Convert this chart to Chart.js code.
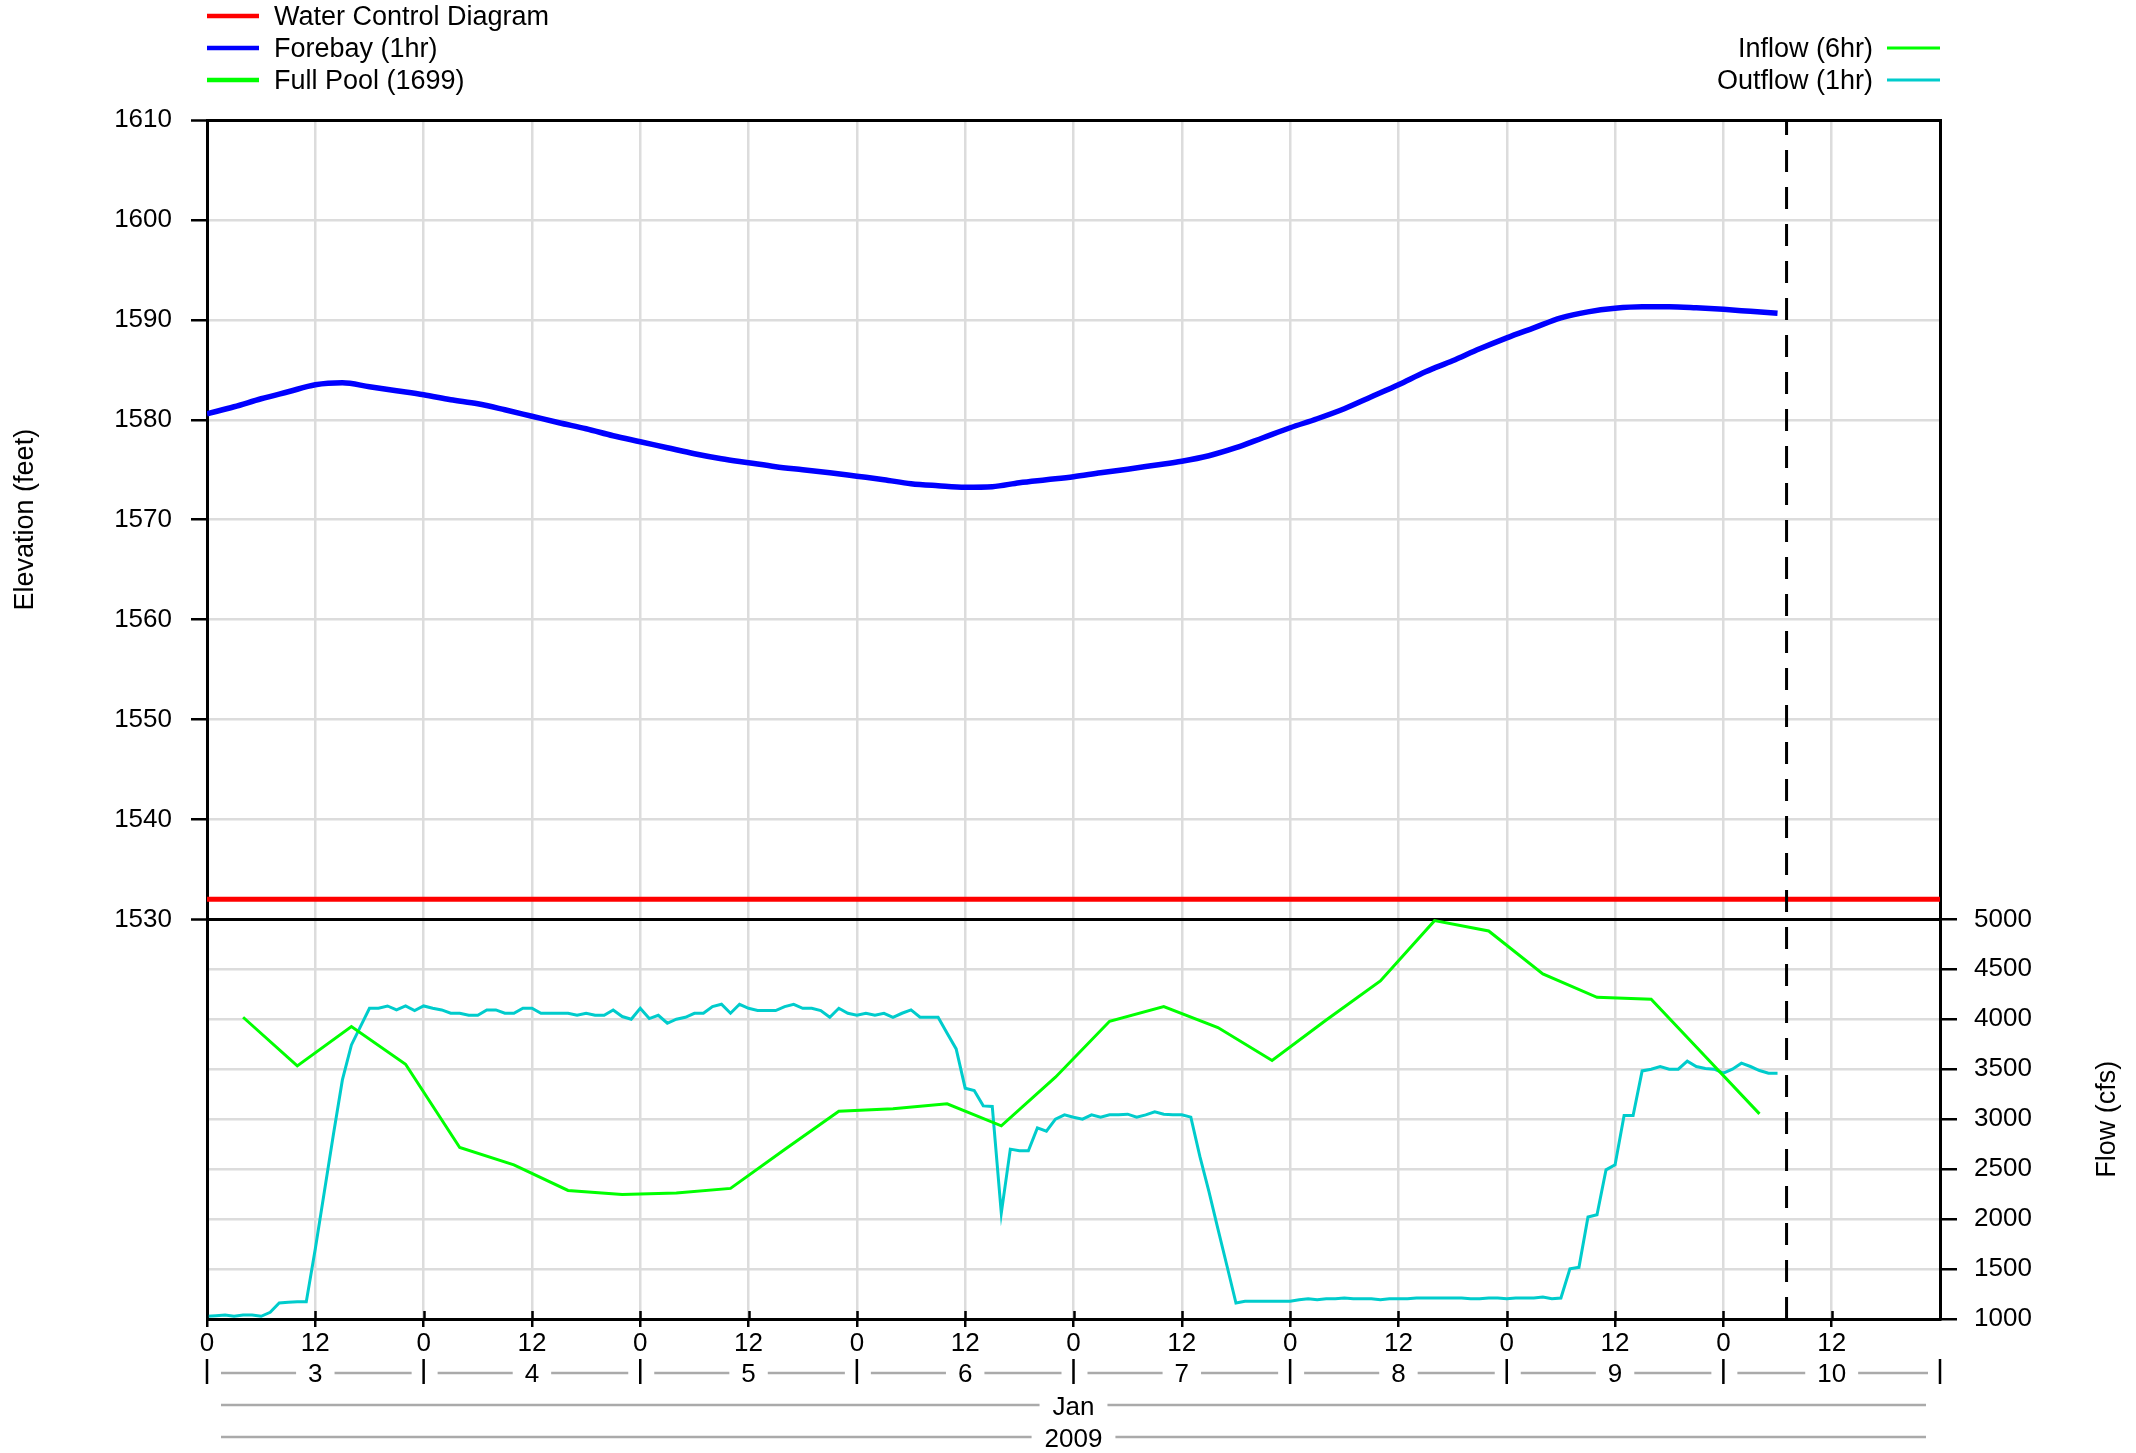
<!DOCTYPE html>
<html>
<head>
<meta charset="utf-8">
<script src="https://cdn.jsdelivr.net/npm/chart.js@4.4.1/dist/chart.umd.min.js"></script>
<style>
  html, body { margin: 0; padding: 0; background: #fff; }
  #wrap { width: 2136px; height: 1453px; }
</style>
</head>
<body>
<div id="wrap"><canvas id="chart" width="2136" height="1453"></canvas></div>
<script>
// ---- data (hours since Jan 3 2009 00:00) ----
const forebayStep = 3;   // forebay read every 3 hours from 0h
const forebay = [
  1580.6, 1581.3, 1582.1, 1582.8, 1583.5, 1583.7, 1583.3, 1582.9, 1582.5, 1582.0,
  1581.6, 1581.0, 1580.35, 1579.7, 1579.1, 1578.4, 1577.8, 1577.2, 1576.6, 1576.1,
  1575.7, 1575.3, 1575.0, 1574.7, 1574.35, 1574.0, 1573.6, 1573.4, 1573.25, 1573.3,
  1573.7, 1574.0, 1574.3, 1574.7, 1575.05, 1575.45, 1575.85, 1576.4, 1577.2, 1578.2,
  1579.2, 1580.1, 1581.1, 1582.3, 1583.5, 1584.8, 1585.9, 1587.1, 1588.2, 1589.2,
  1590.2, 1590.8, 1591.15, 1591.3, 1591.3, 1591.2, 1591.05, 1590.85, 1590.65
];

const inflowStart = 4, inflowStep = 6;
const inflow = [
  4020, 3533, 3927, 3550, 2717, 2543, 2287, 2247, 2260, 2307,
  2697, 3080, 3105, 3153, 2933, 3420, 3980, 4127, 3917, 3587,
  3993, 4383, 4987, 4883, 4453, 4220, 4200, 3627, 3053
];

// hourly, from 0h
const outflow = [
  1027, 1033, 1040, 1027, 1040, 1040, 1027, 1067, 1160, 1167,
  1173, 1173, 1703, 2273, 2843, 3393, 3743, 3927, 4110, 4110,
  4133, 4093, 4133, 4087, 4133, 4110, 4093, 4060, 4060, 4040,
  4040, 4093, 4093, 4060, 4060, 4110, 4110, 4060, 4060, 4060,
  4060, 4040, 4060, 4040, 4040, 4093, 4027, 4000, 4110, 4007,
  4040, 3960, 4000, 4020, 4060, 4060, 4127, 4150, 4060, 4150,
  4110, 4087, 4087, 4087, 4127, 4150, 4110, 4110, 4087, 4020,
  4110, 4060, 4040, 4060, 4040, 4060, 4020, 4060, 4093, 4020,
  4020, 4020, 3860, 3703, 3310, 3287, 3133, 3127, 2060, 2700,
  2683, 2683, 2913, 2880, 3000, 3043, 3020, 3000, 3043, 3020,
  3043, 3043, 3050, 3020, 3043, 3073, 3050, 3043, 3043, 3020,
  2627, 2277, 1903, 1533, 1160, 1177, 1177, 1177, 1177, 1177,
  1177, 1193, 1203, 1193, 1203, 1203, 1210, 1203, 1203, 1203,
  1193, 1203, 1203, 1203, 1210, 1210, 1210, 1210, 1210, 1210,
  1203, 1203, 1210, 1210, 1203, 1210, 1210, 1210, 1220, 1203,
  1210, 1503, 1517, 2020, 2043, 2493, 2543, 3037, 3037, 3483,
  3500, 3527, 3500, 3500, 3580, 3527, 3507, 3500, 3460, 3500,
  3560, 3527, 3487, 3460, 3460
];

const waterControl = 1532;
const fullPool = 1699;
const nowHour = 175;      // Jan 10 07:00 marker

const hourTicks = [0, 12, 24, 36, 48, 60, 72, 84, 96, 108, 120, 132, 144, 156, 168, 180];
const elevTicks = [1530, 1540, 1550, 1560, 1570, 1580, 1590, 1600, 1610];
const flowTicks = [1000, 1500, 2000, 2500, 3000, 3500, 4000, 4500, 5000];
const dayLabels = ['3', '4', '5', '6', '7', '8', '9', '10'];
const monthLabel = 'Jan';
const yearLabel = '2009';

const legendLeft = [
  { text: 'Water Control Diagram', color: '#ff0000' },
  { text: 'Forebay (1hr)', color: '#0000ff' },
  { text: 'Full Pool (1699)', color: '#00ff00' }
];
const legendRight = [
  { text: 'Inflow (6hr)', color: '#00ff00' },
  { text: 'Outflow (1hr)', color: '#00cccc' }
];

// ---- styling ----
const FONT = 'Liberation Sans, Arial, Helvetica, sans-serif';
const GRID = '#dcdcdc';
const ROWGRAY = '#aaaaaa';

const toXY = (vals, start, step) => vals.map((v, i) => ({ x: start + i * step, y: v }));

const decor = {
  id: 'decor',
  afterDraw(chart) {
    const ctx = chart.ctx;
    const xs = chart.scales.x;
    const a = chart.chartArea;
    ctx.save();

    // inner part of the bottom hour ticks
    ctx.strokeStyle = '#000';
    ctx.lineWidth = 2.5;
    hourTicks.forEach(h => {
      const px = Math.round(xs.getPixelForValue(h)) + 0.5;
      ctx.beginPath();
      ctx.moveTo(px, a.bottom - 8);
      ctx.lineTo(px, a.bottom);
      ctx.stroke();
    });

    ctx.font = '26px ' + FONT;
    ctx.fillStyle = '#000';
    ctx.textAlign = 'center';
    ctx.textBaseline = 'middle';

    // day row
    const rowY = 1373;
    dayLabels.forEach((d, i) => {
      const x0 = xs.getPixelForValue(i * 24);
      const x1 = xs.getPixelForValue((i + 1) * 24);
      const xm = xs.getPixelForValue(i * 24 + 12);
      const w = ctx.measureText(d).width;
      ctx.strokeStyle = '#000';
      ctx.lineWidth = 2.5;
      ctx.beginPath();
      ctx.moveTo(x0, 1359); ctx.lineTo(x0, 1384);
      if (i === dayLabels.length - 1) { ctx.moveTo(x1, 1359); ctx.lineTo(x1, 1384); }
      ctx.stroke();
      ctx.strokeStyle = ROWGRAY;
      ctx.beginPath();
      ctx.moveTo(x0 + 14, rowY); ctx.lineTo(xm - w / 2 - 12, rowY);
      ctx.moveTo(xm + w / 2 + 12, rowY); ctx.lineTo(x1 - 12, rowY);
      ctx.stroke();
      ctx.fillText(d, xm, rowY + 2);
    });

    // month and year rows
    const cx = (a.left + a.right) / 2;
    [[monthLabel, 1405], [yearLabel, 1437]].forEach(([t, y]) => {
      const w = ctx.measureText(t).width;
      ctx.strokeStyle = ROWGRAY;
      ctx.lineWidth = 2.5;
      ctx.beginPath();
      ctx.moveTo(a.left + 14, y); ctx.lineTo(cx - w / 2 - 13, y);
      ctx.moveTo(cx + w / 2 + 13, y); ctx.lineTo(a.right - 14, y);
      ctx.stroke();
      ctx.fillText(t, cx, y + 3);
    });

    // axis titles
    ctx.font = '27px ' + FONT;
    const split = chart.scales.yFlow.getPixelForValue(5000);
    [['Elevation (feet)', 26, (a.top + split) / 2],
     ['Flow (cfs)', 2108, (split + a.bottom) / 2]].forEach(([t, x, y]) => {
      ctx.save();
      ctx.translate(x, y);
      ctx.rotate(-Math.PI / 2);
      ctx.fillText(t, 0, 0);
      ctx.restore();
    });

    // legends
    ctx.font = '27px ' + FONT;
    const rows = [16, 48, 80];
    legendLeft.forEach((l, i) => {
      ctx.strokeStyle = l.color;
      ctx.lineWidth = 4.5;
      ctx.beginPath();
      ctx.moveTo(207, rows[i]); ctx.lineTo(259, rows[i]);
      ctx.stroke();
      ctx.textAlign = 'left';
      ctx.fillText(l.text, 274, rows[i] + 2);
    });
    legendRight.forEach((l, i) => {
      const y = rows[i + 1];
      ctx.strokeStyle = l.color;
      ctx.lineWidth = 3;
      ctx.beginPath();
      ctx.moveTo(1887, y); ctx.lineTo(1940, y);
      ctx.stroke();
      ctx.textAlign = 'right';
      ctx.fillText(l.text, 1873, y + 2);
    });

    ctx.restore();
  }
};

const ctx = document.getElementById('chart').getContext('2d');
const chart = new Chart(ctx, {
  type: 'line',
  data: {
    datasets: [
      {
        label: 'Now',
        data: [{ x: nowHour, y: 1490 }, { x: nowHour, y: 1610 }],
        yAxisID: 'yElev',
        borderColor: '#000',
        borderWidth: 3,
        borderDash: [22, 15],
        pointRadius: 0
      },
      {
        label: 'Forebay (1hr)',
        data: toXY(forebay, 0, forebayStep),
        yAxisID: 'yElev',
        borderColor: '#0000ff',
        borderWidth: 5.5,
        pointRadius: 0,
        cubicInterpolationMode: 'monotone'
      },
      {
        label: 'Water Control Diagram',
        data: [{ x: 0, y: waterControl }, { x: 192, y: waterControl }],
        yAxisID: 'yElev',
        borderColor: '#ff0000',
        borderWidth: 5,
        pointRadius: 0
      },
      {
        label: 'Full Pool (1699)',
        data: [{ x: 0, y: fullPool }, { x: 192, y: fullPool }],
        yAxisID: 'yElev',
        borderColor: '#00ff00',
        borderWidth: 5,
        pointRadius: 0
      },
      {
        label: 'Inflow (6hr)',
        data: toXY(inflow, inflowStart, inflowStep),
        yAxisID: 'yFlow',
        borderColor: '#00ff00',
        borderWidth: 3,
        pointRadius: 0
      },
      {
        label: 'Outflow (1hr)',
        data: toXY(outflow, 0, 1),
        yAxisID: 'yFlow',
        borderColor: '#00cccc',
        borderWidth: 3,
        pointRadius: 0
      }
    ]
  },
  options: {
    responsive: false,
    devicePixelRatio: 1,
    animation: false,
    parsing: false,
    layout: { padding: { top: 120, left: 0, right: 0, bottom: 0 } },
    plugins: { legend: { display: false }, tooltip: { enabled: false } },
    scales: {
      x: {
        type: 'linear',
        position: 'bottom',
        min: 0,
        max: 192,
        afterBuildTicks: s => { s.ticks = hourTicks.map(v => ({ value: v })); },
        afterFit: s => { s.height = 134; },
        ticks: {
          autoSkip: false,
          maxRotation: 0,
          padding: 1,
          color: '#000',
          font: { family: FONT, size: 26 },
          callback: v => String(v % 24)
        },
        grid: {
          color: c => (c.tick && c.tick.value === 0) ? 'rgba(0,0,0,0)' : GRID,
          lineWidth: 2.5,
          tickColor: '#000',
          tickLength: 8,
          tickWidth: 2.5
        },
        border: { color: '#000', width: 3 }
      },
      yElev: {
        type: 'linear',
        position: 'left',
        min: 1490,
        max: 1610,
        afterBuildTicks: s => { s.ticks = elevTicks.map(v => ({ value: v })); },
        afterFit: s => { s.width = 207; },
        ticks: {
          padding: 19,
          color: '#000',
          font: { family: FONT, size: 26 },
          callback: v => String(v)
        },
        grid: {
          color: c => (c.tick && (c.tick.value === 1530 || c.tick.value === 1610)) ? '#000' : GRID,
          lineWidth: c => (c.tick && (c.tick.value === 1530 || c.tick.value === 1610)) ? 3 : 2.5,
          tickColor: '#000',
          tickLength: 16,
          tickWidth: 2.5
        },
        border: { color: '#000', width: 3 }
      },
      yFlow: {
        type: 'linear',
        position: 'right',
        min: 1000,
        max: 13000,
        afterBuildTicks: s => { s.ticks = flowTicks.map(v => ({ value: v })); },
        afterFit: s => { s.width = 196; },
        ticks: {
          padding: 17,
          color: '#000',
          font: { family: FONT, size: 26 },
          callback: v => String(v)
        },
        grid: {
          color: c => (c.tick && (c.tick.value === 1000 || c.tick.value === 5000)) ? 'rgba(0,0,0,0)' : GRID,
          lineWidth: 2.5,
          tickColor: '#000',
          tickLength: 17,
          tickWidth: 2.5
        },
        border: { color: '#000', width: 3 }
      }
    }
  },
  plugins: [decor]
});
</script>
</body>
</html>
